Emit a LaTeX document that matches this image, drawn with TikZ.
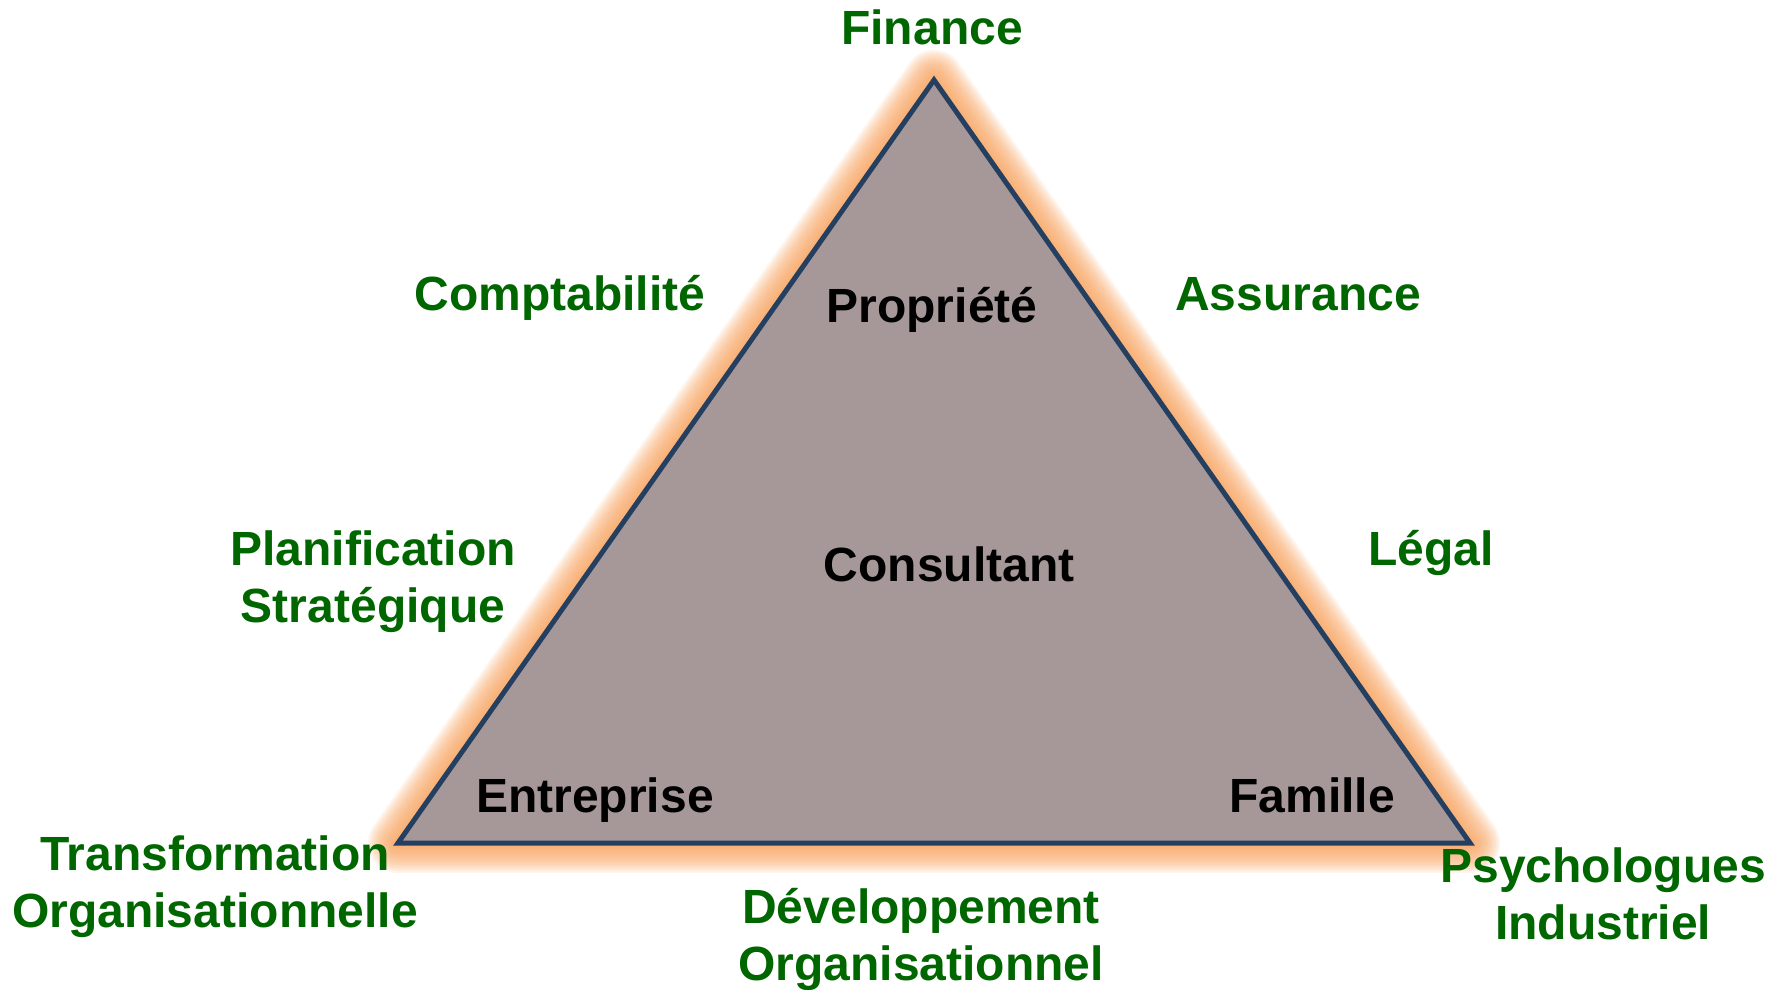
\documentclass[tikz,border=0pt]{standalone}
\usepackage{fontspec}
\setmainfont{Liberation Sans}
\definecolor{lblgreen}{RGB}{0,102,0}
\definecolor{trifill}{RGB}{166,152,152}
\definecolor{triedge}{RGB}{36,63,96}
\definecolor{glow}{RGB}{247,160,90}
\tikzset{
  lbl/.style={text=lblgreen, font=\fontsize{48}{57}\selectfont\bfseries, align=center, inner sep=0pt, anchor=base},
  inlbl/.style={text=black, font=\fontsize{48}{57}\selectfont\bfseries, align=center, inner sep=0pt, anchor=base},
}
\begin{document}
\begin{tikzpicture}[x=1pt,y=-1pt]
\useasboundingbox (0,0) rectangle (1785,990);
\coordinate (T) at (934,80);
\coordinate (L) at (398,843);
\coordinate (R) at (1470,843);
% glow
\foreach \w in {60,56,...,8}{
  \draw[glow, line width=\w pt, line join=round, opacity=0.11] (T) -- (L) -- (R) -- cycle;
}
\draw[fill=trifill, draw=triedge, line width=5pt, line join=miter] (T) -- (L) -- (R) -- cycle;

\node[lbl] (finance) at (932,45) {Finance};
\node[lbl] (compta) at (560,310) {Comptabilité};
\node[lbl] (assur) at (1298,310) {Assurance};
\node[lbl] (plan) at (373,622) {Planification\\Stratégique};
\node[lbl] (legal) at (1431,565) {Légal};
\node[lbl] (transfo) at (215,927) {Transformation\\Organisationnelle};
\node[lbl] (psy) at (1603,939) {Psychologues\\Industriel};
\node[lbl] (dev) at (921,980) {Développement\\Organisationnel};

\node[inlbl] (prop) at (932,322) {Propriété};
\node[inlbl] (cons) at (949,581) {Consultant};
\node[inlbl] (entr) at (595,812) {Entreprise};
\node[inlbl] (fam) at (1312,812) {Famille};
\end{tikzpicture}
\end{document}
